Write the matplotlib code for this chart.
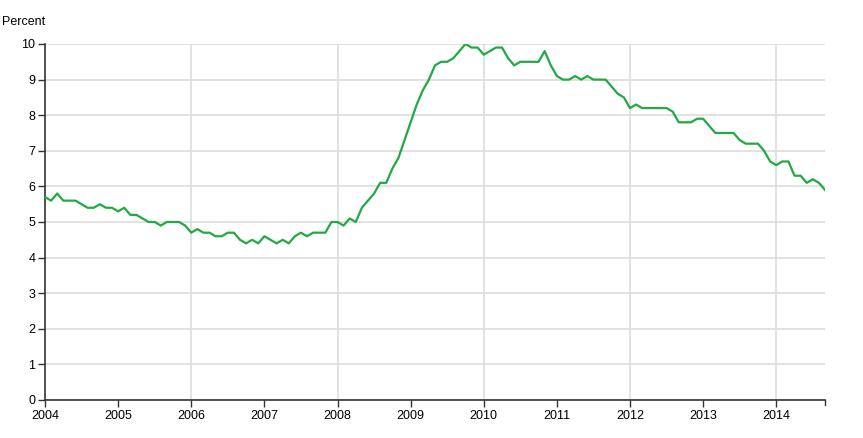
import numpy as np
import matplotlib.pyplot as plt

plt.rcParams['font.family'] = ['Liberation Sans', 'DejaVu Sans']

# monthly unemployment rate, Jan 2004 - Sep 2014
rate = [
    5.7, 5.6, 5.8, 5.6, 5.6, 5.6, 5.5, 5.4, 5.4, 5.5, 5.4, 5.4,  # 2004
    5.3, 5.4, 5.2, 5.2, 5.1, 5.0, 5.0, 4.9, 5.0, 5.0, 5.0, 4.9,  # 2005
    4.7, 4.8, 4.7, 4.7, 4.6, 4.6, 4.7, 4.7, 4.5, 4.4, 4.5, 4.4,  # 2006
    4.6, 4.5, 4.4, 4.5, 4.4, 4.6, 4.7, 4.6, 4.7, 4.7, 4.7, 5.0,  # 2007
    5.0, 4.9, 5.1, 5.0, 5.4, 5.6, 5.8, 6.1, 6.1, 6.5, 6.8, 7.3,  # 2008
    7.8, 8.3, 8.7, 9.0, 9.4, 9.5, 9.5, 9.6, 9.8, 10.0, 9.9, 9.9,  # 2009
    9.7, 9.8, 9.9, 9.9, 9.6, 9.4, 9.5, 9.5, 9.5, 9.5, 9.8, 9.4,  # 2010
    9.1, 9.0, 9.0, 9.1, 9.0, 9.1, 9.0, 9.0, 9.0, 8.8, 8.6, 8.5,  # 2011
    8.2, 8.3, 8.2, 8.2, 8.2, 8.2, 8.2, 8.1, 7.8, 7.8, 7.8, 7.9,  # 2012
    7.9, 7.7, 7.5, 7.5, 7.5, 7.5, 7.3, 7.2, 7.2, 7.2, 7.0, 6.7,  # 2013
    6.6, 6.7, 6.7, 6.3, 6.3, 6.1, 6.2, 6.1, 5.9,                 # 2014
]
start_year = 2004
years = list(range(2004, 2015))
grid_years = [2006, 2008, 2010, 2012, 2014]

t = start_year + np.arange(len(rate)) / 12.0

fig = plt.figure(figsize=(8.63, 4.38), dpi=100)
ax = fig.add_axes([45/863, 1 - 400/438, 780/863, 356/438])

for yv in range(0, 11):
    ax.axhline(yv, color='#dddddd', lw=1.2, zorder=0)
for gx in grid_years:
    ax.axvline(gx, color='#dddddd', lw=1.2, zorder=0)

ax.plot(t, rate, color='#22a844', lw=1.6, zorder=3)

ax.set_xlim(start_year, t[-1])
ax.set_ylim(0, 10)
ax.set_xticks(years)
ax.set_xticklabels([str(y) for y in years])
ax.set_yticks(range(0, 11))

for s in ['top', 'right']:
    ax.spines[s].set_visible(False)
for s in ['left', 'bottom']:
    ax.spines[s].set_color('#333333')
    ax.spines[s].set_linewidth(1.2)
ax.tick_params(axis='both', length=5, width=1, color='#333333', labelsize=9, pad=2)

# end tick at the right of the x axis
ax.plot([t[-1], t[-1]], [0, -0.15], color='#333333', lw=1, clip_on=False)

fig.text(2/863, 1 - 22/438, 'Percent', fontsize=9, va='center', ha='left')

fig.savefig('out.png', dpi=100)
